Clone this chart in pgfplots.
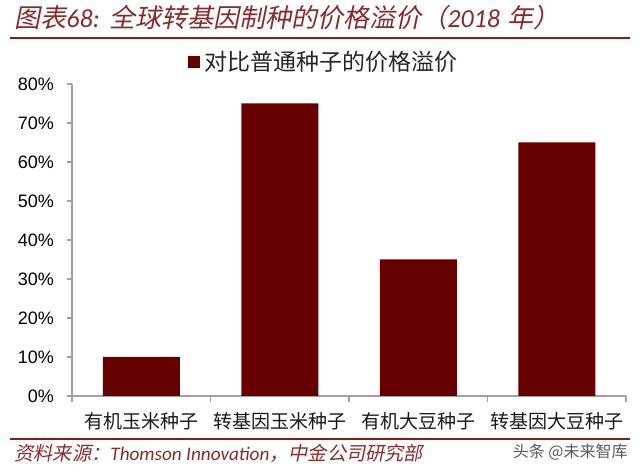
\documentclass[border=0pt]{standalone}
\usepackage{fontspec}
\usepackage{pgfplots}
\pgfplotsset{compat=1.18}
\setmainfont{Liberation Sans}
\newfontfamily\cjk{Noto Sans CJK SC}
\newfontfamily\cjki[FakeSlant=0.2]{Noto Sans CJK SC}
\newfontfamily\cali[ItalicFont={Carlito Italic}]{Carlito}
\definecolor{barc}{HTML}{660000}
\definecolor{ttl}{HTML}{8B2A2A}
\definecolor{rule}{HTML}{8B1A1A}
\definecolor{axc}{HTML}{A0A0A0}
\begin{document}
\begin{tikzpicture}
\path[use as bounding box] (0,0) rectangle (320pt,237pt);
% title
\node[anchor=west, text=ttl, inner sep=0pt] at (7pt,{(474-18)*0.5pt})
  {\fontsize{13}{15}\selectfont{\cjki 图表}{\cali\itshape 68:} {\cjki 全球转基因制种的价格溢价（}{\cali\itshape 2018} {\cjki 年）}};
\draw[rule, line width=1pt] (5pt,{(474-38)*0.5pt}) -- (315pt,{(474-38)*0.5pt});
% bottom
\draw[rule, line width=0.8pt] (5pt,{(474-439)*0.5pt}) -- (315pt,{(474-439)*0.5pt});
\node[anchor=west, text=ttl, inner sep=0pt] at (7pt,{(474-453)*0.5pt})
  {\fontsize{9.6}{11}\selectfont{\cjki 资料来源：}{\cali\itshape Thomson Innovation}{\cjki ，中金公司研究部}};
\node[anchor=east, text=black!65, inner sep=0pt] at (314pt,{(474-452)*0.5pt})
  {\fontsize{8}{10}\selectfont\cjk 头条 @未来智库};
\begin{axis}[
  at={(36pt,39pt)}, anchor=south west,
  scale only axis, width=277pt, height=156pt,
  xmin=-0.5, xmax=3.5, ymin=0, ymax=80,
  axis x line*=bottom, axis y line*=left,
  axis line style={axc, line width=0.6pt},
  xtick={0,1,2,3},
  xticklabels={有机玉米种子,转基因玉米种子,有机大豆种子,转基因大豆种子},
  minor xtick={-0.5,0.5,1.5,2.5,3.5},
  every major x tick/.append style={draw=none},
  every minor x tick/.append style={draw=axc, line width=0.6pt},
  minor tick length=3pt,
  ytick={0,10,...,80},
  every major y tick/.append style={draw=axc, line width=0.6pt},
  major tick length=2.5pt,
  tick align=outside,
  yticklabel={\pgfmathprintnumber{\tick}\%},
  /pgf/number format/assume math mode=true,
  yticklabel style={font=\fontsize{9}{10}\selectfont, xshift=-3pt},
  xticklabel style={font=\cjk\fontsize{9.5}{11}\selectfont, text=black!90, yshift=-2pt},
  legend style={at={(0.456,1.07)}, anchor=center, draw=none, fill=none,
    font=\cjk\fontsize{11.5}{13}\selectfont, text=black!85,
    legend cell align=left, inner sep=0pt},
  legend image code/.code={\fill[barc] (0pt,-3pt) rectangle (6pt,3pt);},
]
\addplot[ybar, bar width=38.5pt, fill=barc, draw=none] coordinates {(0,10) (1,75) (2,35) (3,65)};
\addlegendentry{对比普通种子的价格溢价}
\end{axis}
\end{tikzpicture}
\end{document}
